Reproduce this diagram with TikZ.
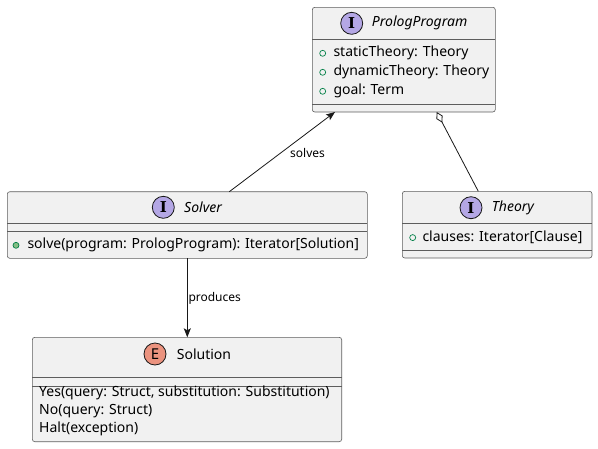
\documentclass[tikz,border=0pt]{standalone}
\usepackage{fontspec}
\setmainfont{Noto Sans}
\newfontfamily\iconfont{DejaVu Serif}
\usetikzlibrary{arrows.meta}
\definecolor{boxfill}{HTML}{F1F1F1}
\definecolor{boxline}{HTML}{181818}
\definecolor{ifill}{HTML}{B4A7E5}
\definecolor{efill}{HTML}{EB937F}
\definecolor{pubgreen}{HTML}{038048}
\definecolor{pubfill}{HTML}{84BE84}
\tikzset{
  classbox/.style={draw=boxline!70, fill=boxfill, line width=0.6pt, rounded corners=2.5pt},
  sepline/.style={draw=boxline!70, line width=0.6pt},
  icon/.style={circle, draw=boxline, line width=0.8pt, minimum size=22pt, inner sep=0pt, font=\iconfont\bfseries\fontsize{15}{15}\selectfont},
  title/.style={anchor=west, inner sep=0pt, font=\fontsize{14}{16}\selectfont},
  member/.style={anchor=west, inner sep=0pt, font=\fontsize{14}{16}\selectfont},
  fieldmark/.style={circle, draw=pubgreen, line width=0.7pt, minimum size=6pt, inner sep=0pt},
  methodmark/.style={circle, draw=pubgreen, fill=pubfill, line width=0.7pt, minimum size=6pt, inner sep=0pt},
  conn/.style={draw=boxline, line width=0.8pt},
  elabel/.style={font=\fontsize{12}{14}\selectfont, inner sep=0pt},
}
\begin{document}
\begin{tikzpicture}[x=1pt,y=-1pt]
\useasboundingbox (0,0) rectangle (598,448);
% PrologProgram
\draw[classbox] (312.3,7.3) rectangle (495.3,112);
\draw[sepline] (312.3,39.3) -- (495.3,39.3);
\draw[sepline] (312.3,104.3) -- (495.3,104.3);
\node[icon, fill=ifill] (pi) at (351.7,23.3) {I};
\node[title] (pt) at (371.7,23.3) {\itshape PrologProgram};
\node[fieldmark] (pm1) at (322.7,53.3) {};
\node[member] (pf1) at (333.3,53) {staticTheory: Theory};
\node[fieldmark] (pm2) at (322.7,72.3) {};
\node[member] (pf2) at (333.3,72) {dynamicTheory: Theory};
\node[fieldmark] (pm3) at (322.7,91.3) {};
\node[member] (pf3) at (333.3,91) {goal: Term};
\coordinate (pbotL) at (335,112);
\coordinate (pbotR) at (436.7,112);
% Solver
\draw[classbox] (7.3,191.7) rectangle (367.3,258.3);
\draw[sepline] (7.3,223.3) -- (367.3,223.3);
\draw[sepline] (7.3,231) -- (367.3,231);
\node[icon, fill=ifill] (si) at (163.3,207.3) {I};
\node[title] (st) at (184,207.3) {\itshape Solver};
\node[methodmark] (sm1) at (16,245.3) {};
\node[member] (sf1) at (27.3,245) {solve(program: PrologProgram): Iterator[Solution]};
\coordinate (stop) at (229.3,191.7);
\coordinate (sbot) at (187.3,258.3);
% Theory
\draw[classbox] (402.3,191.3) rectangle (592,258);
\draw[sepline] (402.3,223.3) -- (592,223.3);
\draw[sepline] (402.3,250.7) -- (592,250.7);
\node[icon, fill=ifill] (ti) at (471,207.7) {I};
\node[title] (tt) at (491.7,207.7) {\itshape Theory};
\node[fieldmark] (tm1) at (412.7,237.6) {};
\node[member] (tf1) at (422.3,237.3) {clauses: Iterator[Clause]};
\coordinate (ttop) at (478.3,191.3);
% Solution
\draw[classbox] (32.3,337.3) rectangle (341.7,441.7);
\draw[sepline] (32.3,377.7) -- (341.7,377.7);
\draw[sepline] (32.3,386.3) -- (341.7,386.3);
\node[icon, fill=efill, font=\bfseries\fontsize{15}{15}\selectfont] (ei) at (155,354) {E};
\node[title] (et) at (176.7,354) {Solution};
\node[member] (ev1) at (39,393.3) {Yes(query: Struct, substitution: Substitution)};
\node[member] (ev2) at (39,411) {No(query: Struct)};
\node[member] (ev3) at (39,429) {Halt(exception)};
\coordinate (etop) at (187.3,337.3);
% connectors
\draw[conn, -{Stealth[length=9pt,width=7pt,inset=2pt]}] (stop) -- (pbotL);
\node[elabel, anchor=west] (l1) at (290,152.7) {solves};
\draw[conn, {Diamond[open,length=12pt,width=7pt]}-] (pbotR) -- (ttop);
\draw[conn, -{Stealth[length=9pt,width=7pt,inset=2pt]}] (sbot) -- (etop);
\node[elabel, anchor=west] (l2) at (188.3,298.3) {produces};
\end{tikzpicture}
\end{document}
